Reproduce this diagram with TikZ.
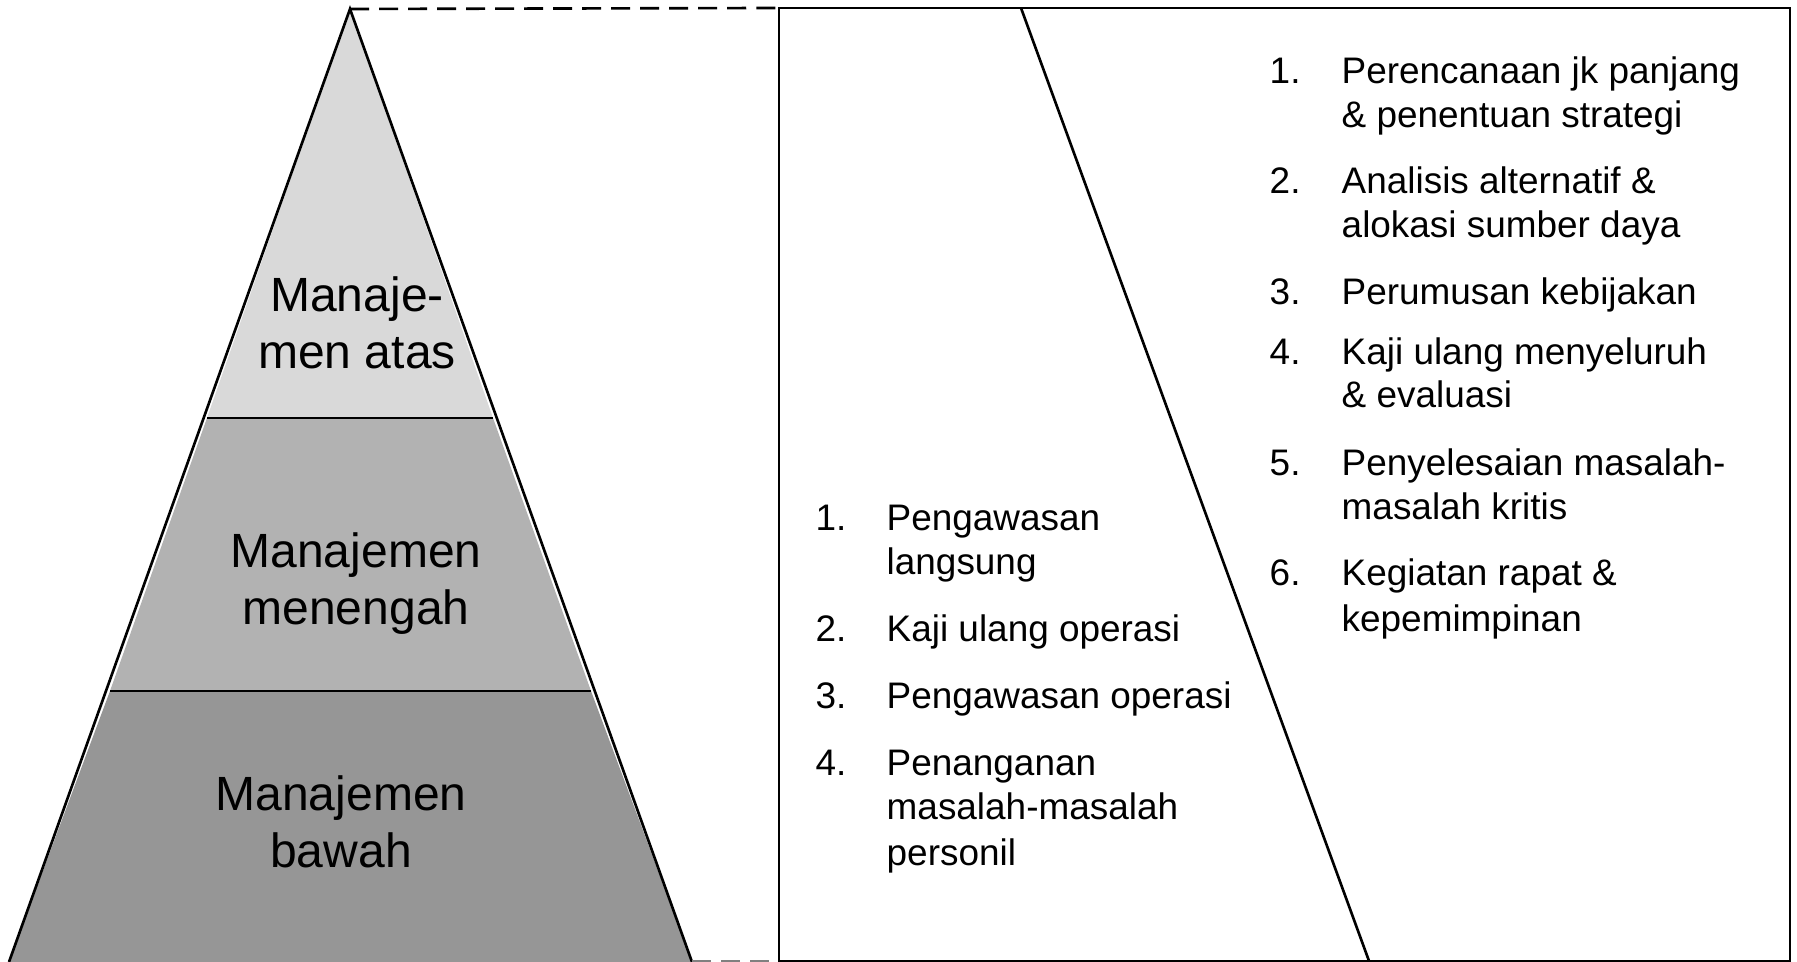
\documentclass[tikz,border=0pt]{standalone}
\usepackage{fontspec}
\setmainfont{Liberation Sans}
\begin{document}
\begin{tikzpicture}[x=0.01cm,y=-0.01cm,
  outline/.style={draw=black,line width=0.75pt},
  dashline/.style={draw=black,line width=0.75pt,dash pattern=on 0.19cm off 0.1cm},
  bigtxt/.style={font=\fontsize{13.66pt}{16.2pt}\selectfont,align=center,inner sep=0pt},
  itm/.style={font=\fontsize{10.5pt}{12.4pt}\selectfont,anchor=base west,inner sep=0pt}]
\useasboundingbox (0,0) rectangle (1797,962);
% pyramid bands
\coordinate (apex) at (350,9);
\coordinate (bl) at (9,962);
\coordinate (br) at (692,962);
\coordinate (l1) at (207,418);
\coordinate (r1) at (493,418);
\coordinate (l2) at (110,691);
\coordinate (r2) at (591,691);
\fill[fill={rgb,255:red,217;green,217;blue,217}] (apex) -- (r1) -- (l1) -- cycle;
\fill[fill={rgb,255:red,178;green,178;blue,178}] (l1) -- (r1) -- (r2) -- (l2) -- cycle;
\fill[fill={rgb,255:red,150;green,150;blue,150}] (l2) -- (r2) -- (br) -- (bl) -- cycle;
\draw[outline] (bl) -- (apex) -- (br);
\draw[outline] (l1) -- (r1);
\draw[outline] (l2) -- (r2);
% box
\coordinate (btl) at (779,8);
\coordinate (btr) at (1790,8);
\coordinate (bbr) at (1790,961);
\coordinate (bbl) at (779,961);
\draw[outline] (btl) -- (btr) -- (bbr) -- (bbl) -- cycle;
\coordinate (dtop) at (1021,8);
\coordinate (dbot) at (1369,961);
\draw[outline] (dtop) -- (dbot);
% dashed connectors
\draw[dashline] (apex) -- (btl);
\draw[dashline,draw=gray] (br) ++(0,-1) -- (bbl);
% pyramid labels
\node[bigtxt] (top) at (357,323) {Manaje-\\men atas};
\node[bigtxt] (mid) at (356,584) {Manajemen\\menengah};
\node[bigtxt] (low) at (341,822) {Manajemen\\bawah};
% right list
\def\nx{1269}\def\tx{1341}
\node[itm] (rn1) at (\nx,84) {1.};
\node[itm] (rt1a) at (\tx,84) {Perencanaan jk panjang};
\node[itm] (rt1b) at (\tx,128) {\& penentuan strategi};
\node[itm] (rn2) at (\nx,194) {2.};
\node[itm] (rt2a) at (\tx,194) {Analisis alternatif \&};
\node[itm] (rt2b) at (\tx,238) {alokasi sumber daya};
\node[itm] (rn3) at (\nx,305) {3.};
\node[itm] (rt3a) at (\tx,305) {Perumusan kebijakan};
\node[itm] (rn4) at (\nx,365) {4.};
\node[itm] (rt4a) at (\tx,365) {Kaji ulang menyeluruh};
\node[itm] (rt4b) at (\tx,408) {\& evaluasi};
\node[itm] (rn5) at (\nx,476) {5.};
\node[itm] (rt5a) at (\tx,476) {Penyelesaian masalah-};
\node[itm] (rt5b) at (\tx,520) {masalah kritis};
\node[itm] (rn6) at (\nx,586) {6.};
\node[itm] (rt6a) at (\tx,586) {Kegiatan rapat \&};
\node[itm] (rt6b) at (\tx,632) {kepemimpinan};
% left list
\def\mx{815}\def\sx{886}
\node[itm] (ln1) at (\mx,531) {1.};
\node[itm] (lt1a) at (\sx,531) {Pengawasan};
\node[itm] (lt1b) at (\sx,575) {langsung};
\node[itm] (ln2) at (\mx,642) {2.};
\node[itm] (lt2a) at (\sx,642) {Kaji ulang operasi};
\node[itm] (ln3) at (\mx,709) {3.};
\node[itm] (lt3a) at (\sx,709) {Pengawasan operasi};
\node[itm] (ln4) at (\mx,776) {4.};
\node[itm] (lt4a) at (\sx,776) {Penanganan};
\node[itm] (lt4b) at (\sx,820) {masalah-masalah};
\node[itm] (lt4c) at (\sx,866) {personil};
\end{tikzpicture}
\end{document}
